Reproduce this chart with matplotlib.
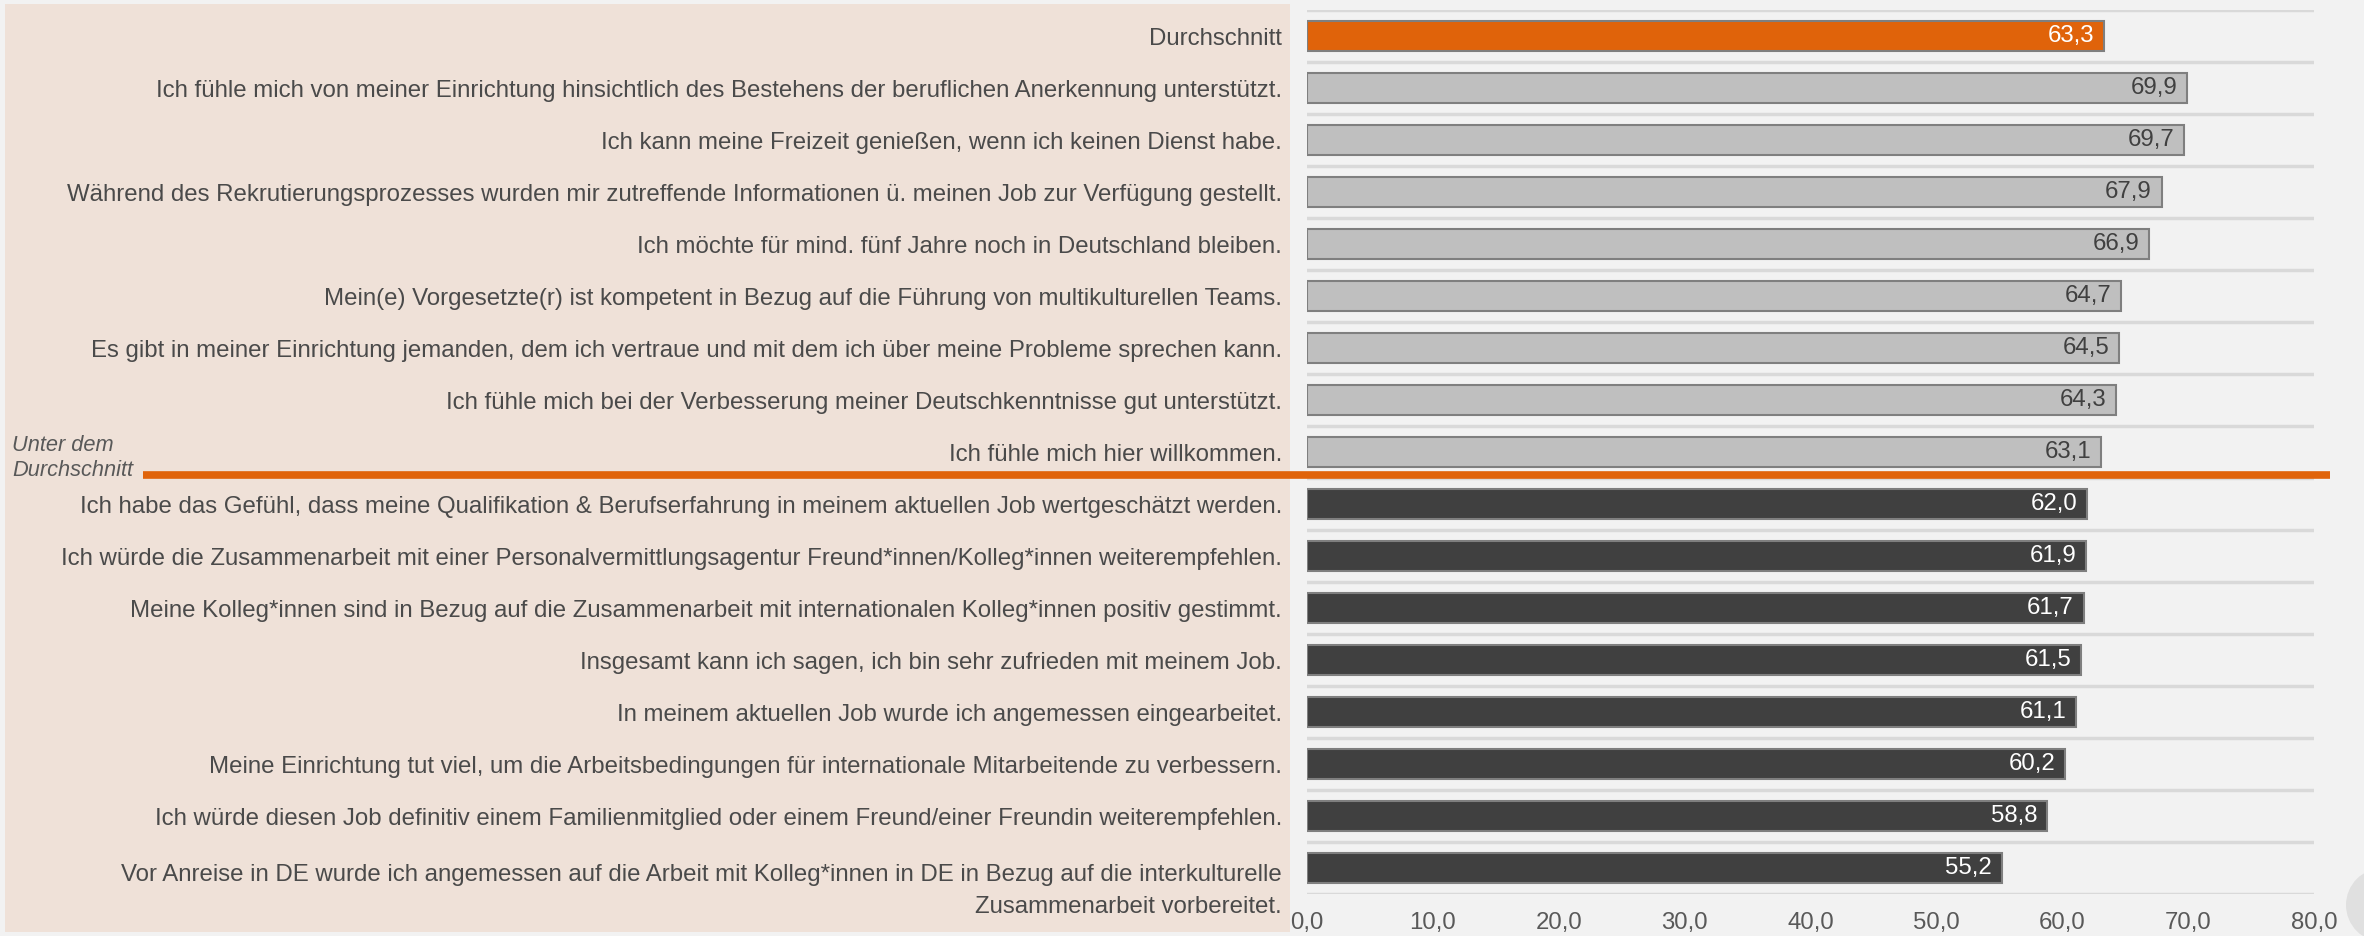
import matplotlib
matplotlib.use("Agg")
import matplotlib.pyplot as plt
import numpy as np
from matplotlib.patches import Rectangle, Circle
from matplotlib.lines import Line2D
from matplotlib.ticker import FuncFormatter, FixedLocator
import matplotlib.transforms as mtransforms

categories = [
    "Durchschnitt",
    "Ich fühle mich von meiner Einrichtung hinsichtlich des Bestehens der beruflichen Anerkennung unterstützt.",
    "Ich kann meine Freizeit genießen, wenn ich keinen Dienst habe.",
    "Während des Rekrutierungsprozesses wurden mir zutreffende Informationen ü. meinen Job zur Verfügung gestellt.",
    "Ich möchte für mind. fünf Jahre noch in Deutschland bleiben.",
    "Mein(e) Vorgesetzte(r) ist kompetent in Bezug auf die Führung von multikulturellen Teams.",
    "Es gibt in meiner Einrichtung jemanden, dem ich vertraue und mit dem ich über meine Probleme sprechen kann.",
    "Ich fühle mich bei der Verbesserung meiner Deutschkenntnisse gut unterstützt.",
    "Ich fühle mich hier willkommen.",
    "Ich habe das Gefühl, dass meine Qualifikation & Berufserfahrung in meinem aktuellen Job wertgeschätzt werden.",
    "Ich würde die Zusammenarbeit mit einer Personalvermittlungsagentur Freund*innen/Kolleg*innen weiterempfehlen.",
    "Meine Kolleg*innen sind in Bezug auf die Zusammenarbeit mit internationalen Kolleg*innen positiv gestimmt.",
    "Insgesamt kann ich sagen, ich bin sehr zufrieden mit meinem Job.",
    "In meinem aktuellen Job wurde ich angemessen eingearbeitet.",
    "Meine Einrichtung tut viel, um die Arbeitsbedingungen für internationale Mitarbeitende zu verbessern.",
    "Ich würde diesen Job definitiv einem Familienmitglied oder einem Freund/einer Freundin weiterempfehlen.",
    "Vor Anreise in DE wurde ich angemessen auf die Arbeit mit Kolleg*innen in DE in Bezug auf die interkulturelle\nZusammenarbeit vorbereitet.",
]
values = [63.3, 69.9, 69.7, 67.9, 66.9, 64.7, 64.5, 64.3, 63.1,
          62.0, 61.9, 61.7, 61.5, 61.1, 60.2, 58.8, 55.2]
groups = ["avg"] + ["above"] * 8 + ["below"] * 8
xticks = [0, 10, 20, 30, 40, 50, 60, 70, 80]
separator_after = 8  # index of last "above" item
side_label = "Unter dem\nDurchschnitt"

plt.rcParams["font.family"] = ["Liberation Sans", "DejaVu Sans"]

W, H = 2364, 936
fig = plt.figure(figsize=(W / 100, H / 100), dpi=100, facecolor="#f2f2f2")

# beige panel
fig.patches.append(Rectangle((5 / W, 4 / H), (1290 - 5) / W, (932 - 4) / H,
                             transform=fig.transFigure, facecolor="#efe1d8",
                             edgecolor="none", zorder=-2))
# scroll indicator circle
fig.patches.append(Circle((23.83, 0.31), 0.37, transform=fig.dpi_scale_trans,
                          facecolor="#e0e0e0", edgecolor="none", zorder=-2))

ax = fig.add_axes([1307 / W, 1 - 894 / H, (2314 - 1307) / W, (894 - 10) / H])
ax.set_facecolor("none")

colors = {"avg": "#e0630a", "above": "#bfbfbf", "below": "#404040"}
txtcol = {"avg": "white", "above": "#404040", "below": "white"}
y = np.arange(len(values))
ax.barh(y, values, height=0.58, color=[colors[g] for g in groups],
        edgecolor="#7f7f7f", linewidth=1.5, zorder=3)
for i, (v, g) in enumerate(zip(values, groups)):
    ax.annotate(f"{v:.1f}".replace(".", ","), xy=(v, i), xytext=(-7, 0),
                textcoords="offset points", ha="right", va="center",
                color=txtcol[g], fontsize=17.3, zorder=4)

ax.set_xlim(0, 80)
ax.set_ylim(len(values) - 0.5, -0.5)
ax.set_yticks(y)
ax.set_yticklabels(categories, fontsize=17.3, color="#4a4a4a", linespacing=1.55)
ax.set_xticks(xticks)
ax.xaxis.set_major_formatter(FuncFormatter(lambda v, p: f"{v:.1f}".replace(".", ",")))
ax.tick_params(axis="x", length=0, pad=13, labelsize=17.3, labelcolor="#595959")
ax.tick_params(axis="y", length=0, pad=18)
ax.yaxis.set_minor_locator(FixedLocator(np.arange(-0.5, len(values), 1.0)))
ax.grid(False)
ax.grid(True, axis="y", which="minor", color="#d9d9d9", linewidth=2.5, zorder=1)
ax.tick_params(axis="y", which="minor", length=0)
for s in ax.spines.values():
    s.set_visible(False)

# the two-line label starts at its bar and runs downward
last = ax.get_yticklabels()[-1]
last.set_transform(last.get_transform() +
                   mtransforms.ScaledTranslation(0, -0.16, fig.dpi_scale_trans))

# separator line (figure x, data y)
trans = mtransforms.blended_transform_factory(fig.transFigure, ax.transData)
fig.add_artist(Line2D([143 / W, 2330 / W], [separator_after + 0.45] * 2,
                      transform=trans, color="#e0630a", linewidth=5.5,
                      solid_capstyle="butt", zorder=5))
fig.text(12 / W, 1 - 458 / H, side_label, fontsize=15.7, style="italic",
         color="#595959", ha="left", va="center", linespacing=1.25)

fig.savefig("out.png", dpi=100, facecolor=fig.get_facecolor())
